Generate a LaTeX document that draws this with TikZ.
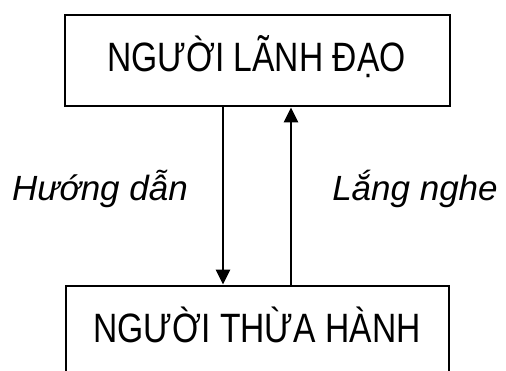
\documentclass[tikz,border=0pt]{standalone}
\usepackage{fontspec}
\setmainfont{Liberation Sans}[FakeStretch=0.82]
\newfontfamily\labelfont{Liberation Sans}
\usetikzlibrary{arrows.meta}
\begin{document}
\begin{tikzpicture}[x=1pt,y=-1pt,
  boxstyle/.style={draw, line width=2.8pt, inner sep=0pt},
  boxtext/.style={font=\fontsize{41}{41}\selectfont},
  labeltext/.style={font=\labelfont\fontsize{35}{35}\selectfont\itshape, anchor=base},
  conn/.style={line width=2.6pt, -{Triangle[width=14pt,length=15pt]}}]
\useasboundingbox (0,0) rectangle (506,370);
\clip (0,0) rectangle (506,370);
\node[boxstyle, minimum width=385pt, minimum height=91pt] (leader) at (257.5,60.5) {};
\node[boxtext, anchor=base] (leadertext) at (256.5,71) {NGƯỜI LÃNH ĐẠO};
\node[boxstyle, minimum width=383pt, minimum height=90pt] (follower) at (257.5,331) {};
\node[boxtext, anchor=base] (followertext) at (257,342) {NGƯỜI THỪA HÀNH};
\coordinate (a1) at (223,0);
\coordinate (a2) at (291,0);
\draw[conn] (leader.south -| a1) -- (follower.north -| a1);
\draw[conn] (follower.north -| a2) -- (leader.south -| a2);
\node[labeltext] (guide) at (100,200) {Hướng dẫn};
\node[labeltext] (listen) at (415,200) {Lắng nghe};
\end{tikzpicture}
\end{document}
